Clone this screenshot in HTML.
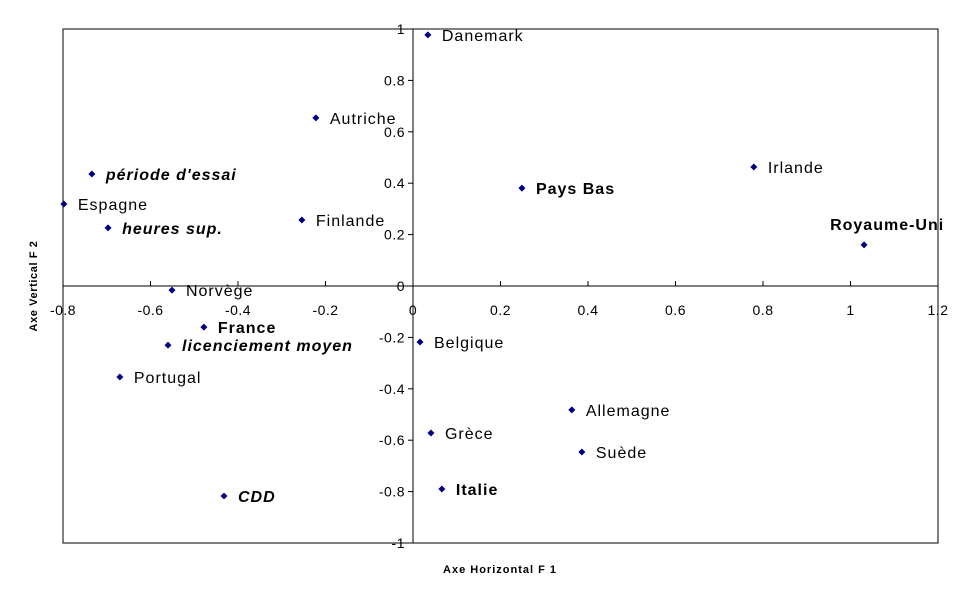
<!DOCTYPE html>
<html><head><meta charset="utf-8"><style>
body{margin:0;background:#fff;}
svg text{font-family:"Liberation Sans",Arial,sans-serif;}
</style></head><body>
<svg id="chart" width="970" height="603" xmlns="http://www.w3.org/2000/svg">
<rect x="63" y="29" width="875" height="514" fill="#fff" stroke="#000" stroke-width="1"/>
<g id="axes"></g>
<g id="points"></g>
<text x="500" y="573" text-anchor="middle" font-size="11" font-weight="bold" letter-spacing="1">Axe Horizontal F 1</text>
<text transform="translate(37,286) rotate(-90)" text-anchor="middle" font-size="11" font-weight="bold" letter-spacing="0.6">Axe Vertical F 2</text>
</svg>
<script>
const labels=["Danemark","Autriche","période d'essai","Espagne","heures sup.","Finlande","Pays Bas","Irlande","Royaume-Uni","Norvège","France","licenciement moyen","Belgique","Portugal","Allemagne","Grèce","Suède","Italie","CDD"];
const xVals=[0.034,-0.222,-0.734,-0.798,-0.697,-0.254,0.249,0.779,1.031,-0.551,-0.478,-0.56,0.016,-0.670,0.363,0.041,0.386,0.066,-0.432];
const yVals=[0.977,0.654,0.436,0.319,0.226,0.257,0.381,0.463,0.160,-0.016,-0.160,-0.230,-0.218,-0.354,-0.482,-0.572,-0.646,-0.790,-0.817];
const styles=["n","n","bi","n","bi","n","b","n","b","n","b","bi","n","n","n","n","n","b","bi"];
const xTicks=[-0.8,-0.6,-0.4,-0.2,0,0.2,0.4,0.6,0.8,1,1.2];
const yTicks=[-1,-0.8,-0.6,-0.4,-0.2,0,0.2,0.4,0.6,0.8,1];
const xTickLabels=["-0.8","-0.6","-0.4","-0.2","0","0.2","0.4","0.6","0.8","1","1.2"];
const yTickLabels=["-1","-0.8","-0.6","-0.4","-0.2","0","0.2","0.4","0.6","0.8","1"];
const NS="http://www.w3.org/2000/svg";
const sx=v=>63+(v+0.8)*437.5;
const sy=v=>286-v*257;
function mk(tag,attrs,parent){const e=document.createElementNS(NS,tag);for(const k in attrs)e.setAttribute(k,attrs[k]);parent.appendChild(e);return e;}
const ax=document.getElementById('axes');
let l=mk('line',{x1:63,x2:938,y1:sy(0),y2:sy(0),stroke:'#000'},ax);


l=mk('line',{x1:sx(0),x2:sx(0),y1:29,y2:543,stroke:'#000'},ax);


xTicks.forEach((v,i)=>{
  const x=sx(v);
  const t=mk('line',{x1:x,x2:x,y1:sy(0)-5,y2:sy(0),stroke:'#000'},ax);
  
  
  const tx=mk('text',{x:x,y:sy(0)+29,'text-anchor':'middle','font-size':14,'letter-spacing':0.5},ax);
  tx.textContent=xTickLabels[i];
  
  
});
yTicks.forEach((v,i)=>{
  const y=sy(v);
  const t=mk('line',{x1:sx(0)-5,x2:sx(0),y1:y,y2:y,stroke:'#000'},ax);
  
  
  const tx=mk('text',{x:sx(0)-8,y:y+5,'text-anchor':'end','font-size':14,'letter-spacing':0.5},ax);
  tx.textContent=yTickLabels[i];
  
  
});
const pg=document.getElementById('points');
labels.forEach((lab,i)=>{
  const x=sx(xVals[i]),y=sy(yVals[i]);
  const p=mk('path',{d:`M${x},${y-3.5}L${x+3.5},${y}L${x},${y+3.5}L${x-3.5},${y}Z`,fill:'#000080'},pg);
  
  
  const s=styles[i];
  let attrs={'font-size':16,'letter-spacing':1,'font-weight':s.includes('b')?'bold':'normal','font-style':s.includes('i')?'italic':'normal'};
  if(lab==="Royaume-Uni"){attrs.x=x-34;attrs.y=y-15;}
  else{attrs.x=x+14;attrs.y=y+6;}
  const t=mk('text',attrs,pg);
  t.textContent=lab;
  
  
});
</script>
</body></html>
